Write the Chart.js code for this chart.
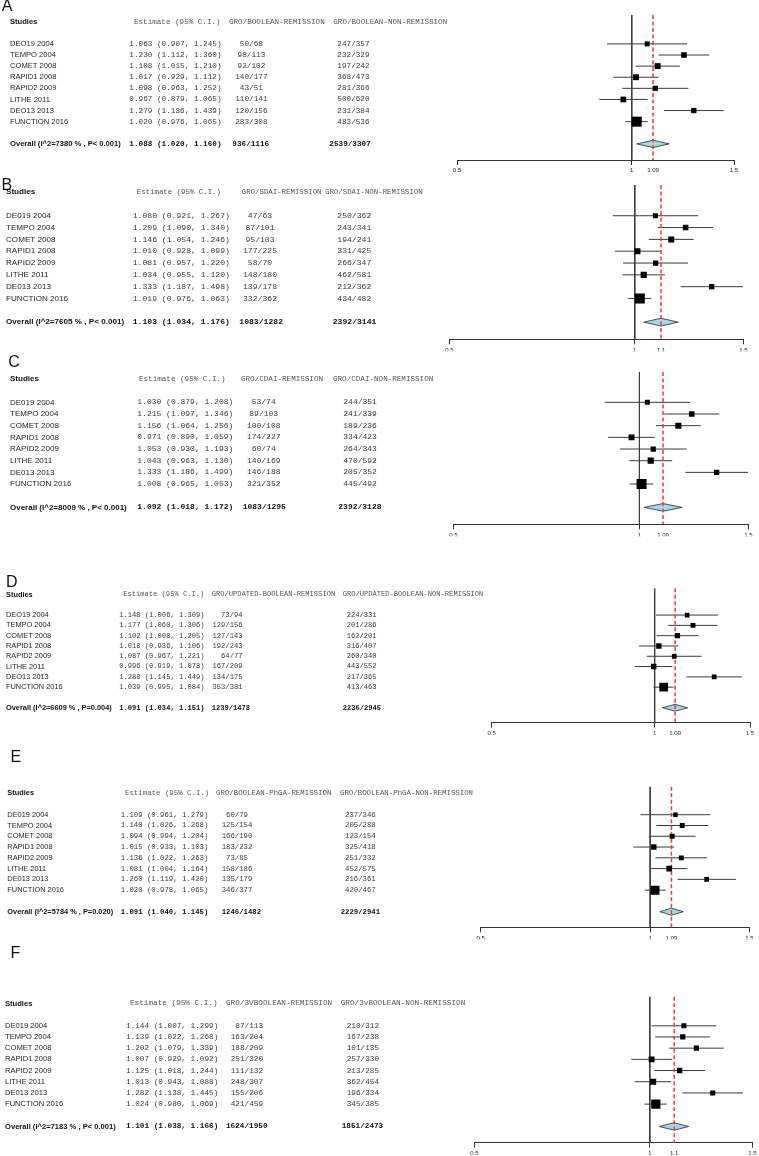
<!DOCTYPE html>
<html><head><meta charset="utf-8">
<script src="https://cdn.jsdelivr.net/npm/chart.js@4.4.1/dist/chart.umd.min.js"></script>
<style>
html,body{margin:0;padding:0;background:#fff;}
#page{position:relative;width:759px;height:1156px;overflow:hidden;background:#fff;}
#page canvas{position:absolute;left:0;}
</style></head>
<body><div id="page"></div>
<script>
// ---------------- DATA ----------------
const panelLetters = ["A","B","C","D","E","F"];
const studiesO = ["DEO19 2004","TEMPO 2004","COMET 2008","RAPID1 2008","RAPID2 2009","LITHE 2011","DEO13 2013","FUNCTION 2016"];
const studiesZ = ["DE019 2004","TEMPO 2004","COMET 2008","RAPID1 2008","RAPID2 2009","LITHE 2011","DE013 2013","FUNCTION 2016"];
const headRem = ["GRO/BOOLEAN-REMISSION","GRO/SDAI-REMISSION","GRO/CDAI-REMISSION","GRO/UPDATED-BOOLEAN-REMISSION","GRO/BOOLEAN-PhGA-REMISSION","GRO/3VBOOLEAN-REMISSION"];
const headNon = ["GRO/BOOLEAN-NON-REMISSION","GRO/SDAI-NON-REMISSION","GRO/CDAI-NON-REMISSION","GRO/UPDATED-BOOLEAN-NON-REMISSION","GRO/BOOLEAN-PhGA-NON-REMISSION","GRO/3vBOOLEAN-NON-REMISSION"];

const estA  = [1.063,1.230,1.108,1.017,1.098,0.967,1.279,1.020];
const lowA  = [0.907,1.112,1.015,0.929,0.963,0.879,1.136,0.976];
const highA = [1.245,1.360,1.210,1.112,1.252,1.065,1.439,1.065];
const remA  = ["50/68","98/113","92/102","140/177","43/51","110/141","120/156","283/308"];
const nonA  = ["247/357","232/329","197/242","368/473","281/366","500/620","231/384","483/536"];

const estB  = [1.080,1.209,1.146,1.010,1.081,1.034,1.333,1.019];
const lowB  = [0.921,1.090,1.054,0.928,0.957,0.955,1.187,0.976];
const highB = [1.267,1.340,1.246,1.099,1.220,1.120,1.498,1.063];
const remB  = ["47/63","87/101","95/103","177/225","58/70","148/180","139/178","332/362"];
const nonB  = ["250/362","243/341","194/241","331/425","266/347","462/581","212/362","434/482"];

const estC  = [1.030,1.215,1.156,0.971,1.053,1.043,1.333,1.008];
const lowC  = [0.879,1.097,1.064,0.890,0.930,0.963,1.186,0.965];
const highC = [1.208,1.346,1.256,1.059,1.193,1.130,1.499,1.053];
const remC  = ["53/74","89/103","100/108","174/227","60/74","140/169","146/188","321/352"];
const nonC  = ["244/351","241/339","189/236","334/423","264/343","470/592","205/352","445/492"];

const estD  = [1.148,1.177,1.102,1.018,1.087,0.996,1.288,1.039];
const lowD  = [1.006,1.060,1.008,0.936,0.967,0.919,1.145,0.995];
const highD = [1.309,1.306,1.205,1.106,1.221,1.078,1.449,1.084];
const remD  = ["73/94","129/156","127/143","192/243","64/77","167/209","134/175","353/381"];
const nonD  = ["224/331","201/286","162/201","316/407","260/340","443/552","217/365","413/463"];

const estE  = [1.109,1.140,1.094,1.015,1.136,1.081,1.260,1.020];
const lowE  = [0.961,1.026,0.994,0.933,1.022,1.004,1.119,0.978];
const highE = [1.279,1.268,1.204,1.103,1.263,1.164,1.420,1.065];
const remE  = ["60/79","125/154","166/190","183/232","73/85","158/186","135/179","346/377"];
const nonE  = ["237/346","205/288","123/154","325/418","251/332","452/575","216/361","420/467"];

const estF  = [1.144,1.139,1.202,1.007,1.125,1.013,1.282,1.024];
const lowF  = [1.007,1.022,1.079,0.929,1.018,0.943,1.138,0.980];
const highF = [1.299,1.268,1.339,1.092,1.244,1.088,1.445,1.069];
const remF  = ["87/113","163/204","188/209","251/320","111/132","248/307","155/206","421/459"];
const nonF  = ["210/312","167/238","101/135","257/330","213/285","362/454","196/334","345/385"];

const overallLabels = ["Overall (I^2=7380 % , P< 0.001)","Overall (I^2=7605 % , P< 0.001)","Overall (I^2=8009 % , P< 0.001)","Overall (I^2=6609 % , P=0.004)","Overall (I^2=5784 % , P=0.020)","Overall (I^2=7183 % , P< 0.001)"];
const overallEst  = [1.088,1.103,1.092,1.091,1.091,1.101];
const overallLow  = [1.020,1.034,1.018,1.034,1.040,1.038];
const overallHigh = [1.160,1.176,1.172,1.151,1.145,1.166];
const overallRem  = ["936/1116","1083/1282","1083/1295","1239/1478","1246/1482","1624/1950"];
const overallNon  = ["2539/3307","2392/3141","2392/3128","2236/2945","2229/2941","1851/2473"];

const xTickValues = [0.5, 1, 1.5];

// ---------------- TABLE BUILT FROM DATA ----------------
const panels = [
  {labels:studiesO, est:estA, low:lowA, high:highA, rem:remA, non:nonA},
  {labels:studiesZ, est:estB, low:lowB, high:highB, rem:remB, non:nonB},
  {labels:studiesZ, est:estC, low:lowC, high:highC, rem:remC, non:nonC},
  {labels:studiesO, est:estD, low:lowD, high:highD, rem:remD, non:nonD},
  {labels:studiesZ, est:estE, low:lowE, high:highE, rem:remE, non:nonE},
  {labels:studiesZ, est:estF, low:lowF, high:highF, rem:remF, non:nonF}
];

// ---------------- LAYOUT (positions / sizes) ----------------
const SANS = "'Liberation Sans', Arial, Helvetica, sans-serif";
const MONO = "'Liberation Mono', 'Courier New', monospace";
const layouts = [
  {top:0,   h:176, area:{l:457,   r:734,   t:15,    b:160},   letter:[1.7,10.5],  sans:7.6, mono:7.7, monoH:7.6, smin:5,   smax:10,
   x:{label:10, est:129.3, estH:134, remH:229, rem:251.4, remAlign:'center', remO:232.3, nonH:333.3, non:337.3, nonO:329.3}},
  {top:176, h:178, area:{l:449.3, r:743.3, t:185,   b:339.3}, letter:[1.5,189.5], sans:8.1, mono:8.1, monoH:7.4, smin:5,   smax:10,
   x:{label:6, est:132.7, estH:136.7, remH:241.7, rem:260, remAlign:'center', remO:239.3, nonH:325, non:337.3, nonO:332.7}},
  {top:354, h:218, area:{l:453.3, r:748.3, t:372,   b:524.3}, letter:[8.3,366.7], sans:8,   mono:8,   monoH:7.6, smin:5,   smax:10,
   x:{label:10, est:137.3, estH:139, remH:241, rem:263.7, remAlign:'center', remO:242.7, nonH:333, non:343.3, nonO:338.3}},
  {top:572, h:176, area:{l:491.7, r:750,   t:588.3, b:722.7}, letter:[6,586.5],   sans:7.4, mono:7.1, monoH:7.1, smin:4.6, smax:8.6,
   x:{label:6, est:119.3, estH:123.3, remH:211.7, rem:242.4, remAlign:'right', remO:211.7, nonH:342.7, non:346.7, nonO:342.7}},
  {top:748, h:196, area:{l:480.7, r:749.3, t:786.7, b:927.3}, letter:[10.5,761.7],sans:7.4, mono:7.3, monoH:7.4, smin:4.5, smax:9,
   x:{label:7.3, est:120.7, estH:125, remH:216, rem:237, remAlign:'center', remO:221.7, nonH:340, non:345, nonO:340.7}},
  {top:944, h:212, area:{l:474.3, r:754.3, t:996.7, b:1142.7},letter:[10.5,958.3],sans:7.6, mono:7.7, monoH:7.7, smin:5,   smax:9.2,
   x:{label:5, est:126, estH:130, remH:226, rem:263, remAlign:'right', remO:226, nonH:340.7, non:346.7, nonO:341.7}}
];

const HEADER_ROW = 0, FIRST_ROW = 2, OVERALL_ROW = 11, Y_MIN = -0.6, Y_MAX = 12.45, DIAMOND_H = 0.33;
const AXIS_H = 12;

const fmtCI = (e, lo, hi) => `${e.toFixed(3)} (${lo.toFixed(3)}, ${hi.toFixed(3)})`;
const fmtTick = v => String(Number(Number(v).toFixed(2)));

const page = document.getElementById('page');

function makeChart(k) {
  const p = panels[k], L = layouts[k];
  const oEst = overallEst[k], oLo = overallLow[k], oHi = overallHigh[k];
  const cv = document.createElement('canvas');
  cv.width = 759; cv.height = L.h;
  cv.style.top = L.top + 'px'; cv.style.width = '759px'; cv.style.height = L.h + 'px';
  page.appendChild(cv);

  const rows = p.est.map((_, i) => FIRST_ROW + i);
  const wts = p.low.map((lo, i) => { const se = (Math.log(p.high[i]) - Math.log(lo)) / 3.92; return 1 / (se * se); });
  const wmin = Math.min(...wts), wmax = Math.max(...wts);
  const radii = wts.map(w => (L.smin + (w - wmin) / (wmax - wmin) * (L.smax - L.smin)) / Math.SQRT2);

  const datasets = [];
  datasets.push({data:[{x:1,y:Y_MIN},{x:1,y:Y_MAX}], showLine:true, borderColor:'#3d3d3d', borderWidth:1, pointRadius:0, order:5});
  p.est.forEach((e, i) => datasets.push({
    data:[{x:p.low[i], y:rows[i]}, {x:p.high[i], y:rows[i]}],
    showLine:true, borderColor:'#3a3a3a', borderWidth:1, pointRadius:0, order:4}));
  datasets.push({
    data:[{x:oLo,y:OVERALL_ROW},{x:oEst,y:OVERALL_ROW-DIAMOND_H},{x:oHi,y:OVERALL_ROW},{x:oEst,y:OVERALL_ROW+DIAMOND_H},{x:oLo,y:OVERALL_ROW}],
    showLine:true, fill:'shape', backgroundColor:'#a6d6e8', borderColor:'#2a2a2a', borderWidth:0.8, pointRadius:0, tension:0, order:3});
  datasets.push({data:[{x:oEst,y:Y_MIN},{x:oEst,y:Y_MAX}], showLine:true, borderColor:'#f03a32', borderWidth:1.5, borderDash:[4,2.5], pointRadius:0, order:2});
  datasets.push({
    data:p.est.map((e, i) => ({x:e, y:rows[i]})),
    showLine:false, pointStyle:'rect', pointRadius:radii, pointBackgroundColor:'#000', pointBorderColor:'#000', pointBorderWidth:0, order:1});

  const tablePlugin = {
    id:'forestTable',
    afterDraw(chart) {
      const ctx = chart.ctx, ys = chart.scales.y, off = L.top;
      const yOf = r => ys.getPixelForValue(r);
      ctx.save();
      ctx.textAlign = 'left'; ctx.textBaseline = 'alphabetic';
      ctx.fillStyle = '#111'; ctx.font = `16px ${SANS}`;
      ctx.fillText(panelLetters[k], L.letter[0], L.letter[1] - off);

      ctx.textBaseline = 'middle';
      const yh = yOf(HEADER_ROW);
      ctx.font = `bold ${L.sans}px ${SANS}`; ctx.fillStyle = '#111';
      ctx.fillText('Studies', L.x.label, yh);
      ctx.font = `${L.monoH}px ${MONO}`; ctx.fillStyle = '#555';
      ctx.fillText('Estimate (95% C.I.)', L.x.estH, yh);
      ctx.fillText(headRem[k], L.x.remH, yh);
      ctx.fillText(headNon[k], L.x.nonH, yh);

      p.labels.forEach((lab, i) => {
        const y = yOf(rows[i]);
        ctx.textAlign = 'left';
        ctx.font = `${L.sans}px ${SANS}`; ctx.fillStyle = '#1e1e1e';
        ctx.fillText(lab, L.x.label, y);
        ctx.font = `${L.mono}px ${MONO}`; ctx.fillStyle = '#3a3a3a';
        ctx.fillText(fmtCI(p.est[i], p.low[i], p.high[i]), L.x.est, y);
        ctx.textAlign = L.x.remAlign;
        ctx.fillText(p.rem[i], L.x.rem, y);
        ctx.textAlign = 'left';
        ctx.fillText(p.non[i], L.x.non, y);
      });

      const yo = yOf(OVERALL_ROW);
      ctx.textAlign = 'left'; ctx.fillStyle = '#111';
      ctx.font = `bold ${L.sans}px ${SANS}`;
      ctx.fillText(overallLabels[k], L.x.label, yo);
      ctx.font = `bold ${L.mono}px ${MONO}`;
      ctx.fillText(fmtCI(oEst, oLo, oHi), L.x.est, yo);
      ctx.fillText(overallRem[k], L.x.remO, yo);
      ctx.fillText(overallNon[k], L.x.nonO, yo);
      ctx.restore();
    }
  };

  const tickVals = [xTickValues[0], xTickValues[1], oEst, xTickValues[2]];

  new Chart(cv, {
    type:'scatter',
    data:{datasets},
    plugins:[tablePlugin],
    options:{
      responsive:false, animation:false, events:[],
      layout:{padding:{left:L.area.l, right:759 - L.area.r, top:L.area.t - L.top, bottom:L.h - (L.area.b - L.top) - AXIS_H}},
      plugins:{legend:{display:false}, tooltip:{enabled:false}},
      scales:{
        x:{
          type:'logarithmic', position:'bottom', min:0.5, max:1.5,
          afterBuildTicks: s => { s.ticks = tickVals.map(v => ({value:v})); },
          afterFit: s => { s.height = AXIS_H; },
          ticks:{autoSkip:false, maxRotation:0, minRotation:0, padding:2, color:'#222',
                 font:{family:SANS, size:6}, callback:v => fmtTick(v)},
          grid:{display:true, drawOnChartArea:false, drawTicks:true, tickLength:5, tickWidth:1,
                tickColor: c => (c.tick && c.tick.value === oEst) ? 'rgba(0,0,0,0)' : '#333'},
          border:{display:true, color:'#333', width:1}
        },
        y:{type:'linear', display:false, reverse:true, min:Y_MIN, max:Y_MAX}
      }
    }
  });
}

panels.forEach((_, k) => makeChart(k));
</script>
</body></html>
